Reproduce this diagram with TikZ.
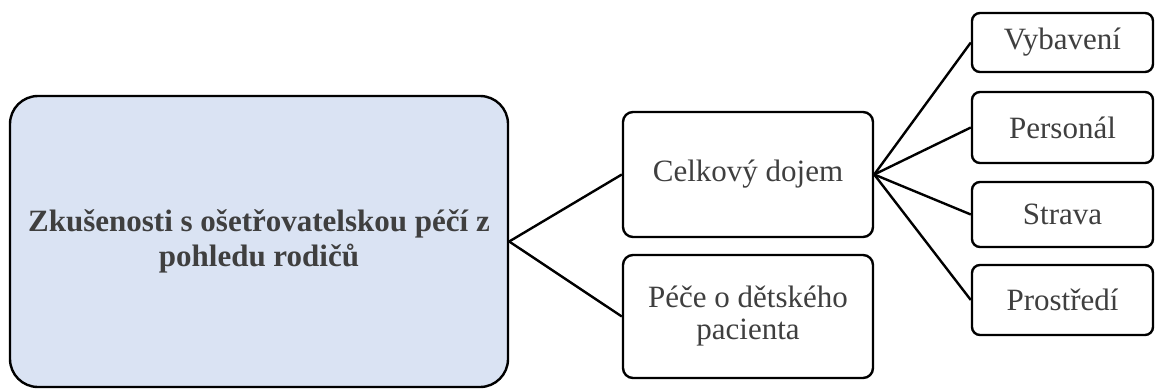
\documentclass[tikz,border=0pt]{standalone}
\usepackage{fontspec}
\setmainfont{Liberation Serif}
\definecolor{boxblue}{HTML}{DAE3F3}
\definecolor{txtgray}{HTML}{3F3F3F}
\tikzset{
  box/.style={draw=black, line width=2.4pt, rounded corners=10pt, fill=white,
    text=txtgray, align=center, font=\fontsize{31}{32}\selectfont},
  mainbox/.style={box, fill=boxblue, rounded corners=28pt,
    font=\fontsize{31}{35}\selectfont\bfseries},
  link/.style={line width=2.4pt}
}
\begin{document}
\begin{tikzpicture}[x=1pt,y=-1pt]
\useasboundingbox (0,0) rectangle (1158,388);

% main topic
\node [mainbox, minimum width=498pt, minimum height=291pt] (topic) at (259,241.5)
  {Zkušenosti s ošetřovatelskou péčí z\\pohledu rodičů};

% second level
\node [box, minimum width=250pt, minimum height=125pt] (dojem) at (748,174.5) {Celkový dojem};
\node [box, minimum width=250pt, minimum height=123pt] (pece) at (748,316.5) {Péče o dětského\\pacienta};

% third level
\node [box, rounded corners=8pt, minimum width=181pt, minimum height=59pt] (vybaveni) at (1062.5,42.5) {Vybavení};
\node [box, rounded corners=8pt, minimum width=181pt, minimum height=71pt] (personal) at (1062.5,127.5) {Personál};
\node [box, rounded corners=8pt, minimum width=181pt, minimum height=65pt] (strava) at (1062.5,214.5) {Strava};
\node [box, rounded corners=8pt, minimum width=181pt, minimum height=70pt] (prostredi) at (1062.5,300) {Prostředí};

\draw [link] (topic.east) -- (dojem.west);
\draw [link] (topic.east) -- (pece.west);

\foreach \n in {vybaveni,personal,strava,prostredi}
  \draw [link] (dojem.east) -- (\n.west);

\end{tikzpicture}
\end{document}
